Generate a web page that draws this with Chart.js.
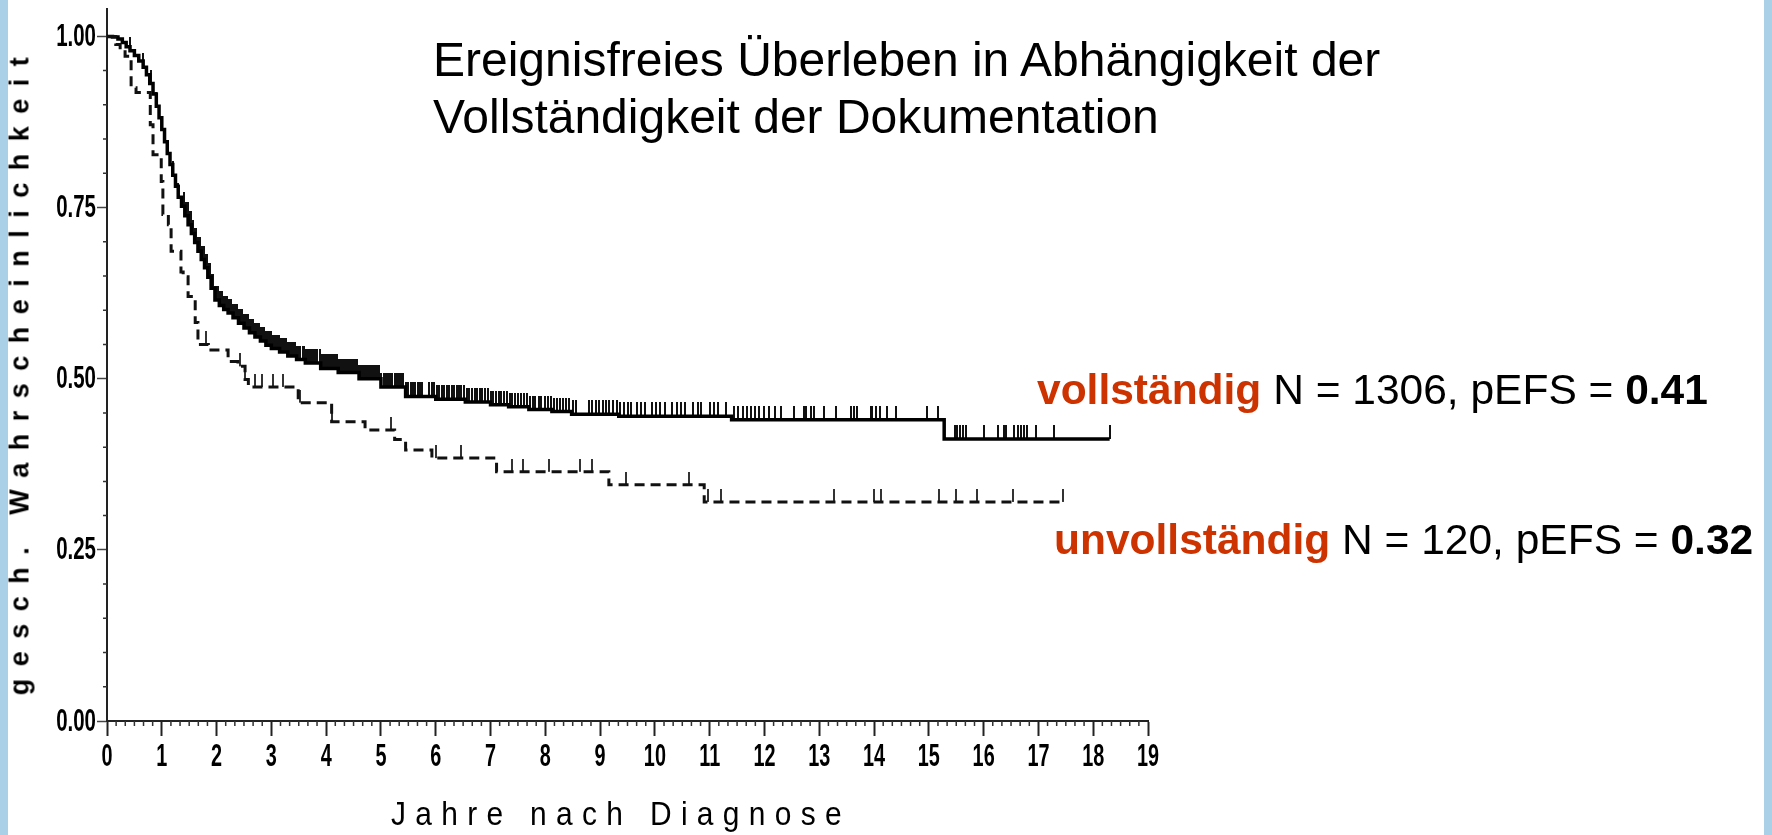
<!DOCTYPE html>
<html>
<head>
<meta charset="utf-8">
<script src="https://cdn.jsdelivr.net/npm/chart.js@4.4.1/dist/chart.umd.min.js"></script>
<style>
html, body { margin: 0; padding: 0; }
body { width: 1772px; height: 835px; background: #a9d0e6; position: relative; overflow: hidden; font-family: 'Liberation Sans', Arial, sans-serif; }
#page { position: absolute; left: 8px; top: 0; width: 1756px; height: 835px; background: #fff; }
#wrap { position: absolute; left: 0; top: 0; width: 1772px; height: 835px; }
.t { position: absolute; white-space: nowrap; color: #000; }
.red { color: #cc3300; font-weight: bold; }
</style>
</head>
<body>
<div id="page"></div>
<div id="wrap"><canvas id="kmChart" width="1772" height="835"></canvas></div>

<div class="t" style="left:433px; top:31px; font-size:48px; line-height:57px;">Ereignisfreies Überleben in Abhängigkeit der<br>Vollständigkeit der Dokumentation</div>
<div class="t" style="left:1037px; top:369px; font-size:42.5px; line-height:42.5px;"><span class="red">vollständig</span> N = 1306, pEFS = <b>0.41</b></div>
<div class="t" style="left:1054px; top:519px; font-size:42.5px; line-height:42.5px;"><span class="red">unvollständig</span> N = 120, pEFS = <b>0.32</b></div>

<div class="t" style="left:20px; top:370px; font-size:27px; font-weight:bold; letter-spacing:12.5px; transform:translate(-50%,-50%) rotate(-90deg);">gesch. Wahrscheinlichkeit</div>
<div class="t" style="left:621px; top:813px; font-size:34px; letter-spacing:10.6px; transform:translate(-50%,-50%) scaleX(0.88);">Jahre nach Diagnose</div>

<script>
// Kaplan-Meier: vollständig (solid)
const solidTimes = [0, 0.1, 0.2, 0.28, 0.35, 0.42, 0.5, 0.58, 0.66, 0.72, 0.78, 0.84, 0.9, 0.95, 1.0, 1.05, 1.1, 1.15, 1.2, 1.25, 1.3, 1.36, 1.42, 1.48, 1.54, 1.6, 1.66, 1.72, 1.78, 1.84, 1.9, 1.97, 2.05, 2.13, 2.21, 2.3, 2.4, 2.5, 2.6, 2.7, 2.8, 2.9, 3.0, 3.15, 3.3, 3.46, 3.62, 3.9, 4.22, 4.6, 5.0, 5.45, 6.0, 6.54, 7.0, 7.33, 7.7, 8.12, 8.48, 9.34, 11.4, 15.28, 18.3];
const solidSurv = [1, 0.999, 0.996, 0.991, 0.985, 0.979, 0.972, 0.964, 0.955, 0.944, 0.931, 0.916, 0.898, 0.881, 0.864, 0.846, 0.829, 0.813, 0.797, 0.781, 0.765, 0.752, 0.738, 0.725, 0.712, 0.699, 0.686, 0.674, 0.662, 0.648, 0.632, 0.615, 0.607, 0.601, 0.596, 0.589, 0.581, 0.574, 0.567, 0.561, 0.555, 0.549, 0.544, 0.539, 0.533, 0.528, 0.523, 0.515, 0.509, 0.5, 0.488, 0.474, 0.47, 0.466, 0.462, 0.459, 0.455, 0.452, 0.448, 0.445, 0.44, 0.412, 0.412];

// Kaplan-Meier: unvollständig (dashed)
const dashedTimes = [0, 0.16, 0.24, 0.33, 0.44, 0.53, 0.79, 0.84, 0.99, 1.02, 1.12, 1.17, 1.35, 1.39, 1.48, 1.61, 1.66, 1.85, 2.21, 2.39, 2.52, 2.58, 3.49, 4.1, 4.71, 5.25, 5.45, 5.93, 7.11, 9.16, 10.9, 17.44];
const dashedSurv = [1, 0.988, 0.98, 0.971, 0.925, 0.918, 0.871, 0.827, 0.788, 0.74, 0.725, 0.686, 0.656, 0.649, 0.62, 0.582, 0.55, 0.542, 0.525, 0.518, 0.499, 0.488, 0.465, 0.437, 0.425, 0.411, 0.396, 0.384, 0.364, 0.345, 0.32, 0.32];

// censored observations (tick marks)
const solidCensor = [0.42, 0.66, 0.8, 0.9, 1.05, 1.2, 1.3, 1.4, 1.44, 1.47, 1.51, 1.53, 1.57, 1.6, 1.62, 1.66, 1.69, 1.72, 1.74, 1.77, 1.8, 1.83, 1.86, 1.88, 1.91, 1.94, 1.97, 1.99, 2.02, 2.05, 2.08, 2.1, 2.13, 2.16, 2.19, 2.21, 2.24, 2.27, 2.3, 2.33, 2.35, 2.38, 2.41, 2.44, 2.47, 2.5, 2.52, 2.55, 2.58, 2.61, 2.64, 2.67, 2.7, 2.72, 2.75, 2.78, 2.81, 2.84, 2.87, 2.9, 2.93, 2.96, 2.99, 3.02, 3.05, 3.08, 3.11, 3.14, 3.17, 3.2, 3.23, 3.26, 3.3, 3.33, 3.36, 3.4, 3.43, 3.46, 3.5, 3.53, 3.57, 3.6, 3.63, 3.67, 3.7, 3.74, 3.77, 3.81, 3.84, 3.88, 3.91, 3.95, 3.98, 4.02, 4.05, 4.09, 4.12, 4.16, 4.2, 4.23, 4.27, 4.3, 4.34, 4.38, 4.41, 4.45, 4.49, 4.52, 4.56, 4.6, 4.63, 4.67, 4.71, 4.74, 4.78, 4.82, 4.86, 4.9, 4.93, 4.97, 5.01, 5.05, 5.09, 5.13, 5.17, 5.21, 5.25, 5.29, 5.33, 5.37, 5.41, 5.45, 5.5, 5.54, 5.58, 5.62, 5.67, 5.71, 5.75, 5.88, 5.93, 5.97, 6.02, 6.06, 6.11, 6.15, 6.2, 6.24, 6.29, 6.33, 6.38, 6.43, 6.47, 6.52, 6.57, 6.61, 6.66, 6.71, 6.76, 6.8, 6.85, 6.9, 6.95, 7.0, 7.05, 7.1, 7.15, 7.2, 7.25, 7.3, 7.35, 7.4, 7.45, 7.5, 7.56, 7.61, 7.66, 7.72, 7.77, 7.82, 7.88, 7.93, 7.99, 8.04, 8.1, 8.15, 8.21, 8.27, 8.32, 8.38, 8.44, 8.5, 8.56, 8.8, 8.86, 8.92, 8.98, 9.05, 9.11, 9.17, 9.24, 9.3, 9.37, 9.43, 9.5, 9.57, 9.68, 9.75, 9.82, 9.95, 10.02, 10.1, 10.18, 10.32, 10.4, 10.48, 10.55, 10.7, 10.78, 10.85, 11.0, 11.08, 11.15, 11.3, 11.45, 11.52, 11.6, 11.68, 11.75, 11.82, 11.9, 12.0, 12.08, 12.2, 12.3, 12.54, 12.72, 12.75, 12.85, 12.91, 13.09, 13.3, 13.58, 13.64, 13.69, 13.94, 13.97, 14.03, 14.1, 14.24, 14.4, 14.97, 15.16, 15.47, 15.52, 15.57, 15.62, 15.68, 16.01, 16.26, 16.38, 16.41, 16.56, 16.62, 16.68, 16.74, 16.8, 16.96, 17.29, 18.3];
const dashedCensor = [1.81, 2.43, 2.52, 2.7, 2.82, 3.03, 3.22, 3.53, 4.1, 5.19, 6.0, 6.47, 7.39, 7.6, 8.06, 8.64, 8.85, 9.47, 10.62, 10.97, 11.2, 13.27, 14.0, 14.13, 15.19, 15.5, 15.87, 16.53, 17.44];

const xTickLabels = ['0', '1', '2', '3', '4', '5', '6', '7', '8', '9', '10', '11', '12', '13', '14', '15', '16', '17', '18', '19'];
const yTickValues = [0, 0.25, 0.5, 0.75, 1];
const yTickLabels = ['0.00', '0.25', '0.50', '0.75', '1.00'];

function survAt(times, surv, t) {
    let s = surv[0];
    for (let i = 0; i < times.length; i++) {
        if (times[i] <= t) s = surv[i];
    }
    return s;
}

// vertical tick that sits on top of the point
function censorMark(w, h, color) {
    const c = document.createElement('canvas');
    c.width = w;
    c.height = h * 2;
    const g = c.getContext('2d');
    g.fillStyle = color;
    g.fillRect(0, 0, w, h);
    return c;
}

// small ticks between the labelled ones + condensed tick labels
const axisExtras = {
    id: 'axisExtras',
    afterDraw(chart) {
        const { ctx, chartArea, scales } = chart;
        ctx.save();
        ctx.strokeStyle = '#333';
        ctx.lineWidth = 1.5;
        ctx.beginPath();
        for (let k = 1; k < 19 * 6; k++) {
            if (k % 6 === 0) continue;
            const px = scales.x.getPixelForValue(k / 6);
            ctx.moveTo(px, chartArea.bottom);
            ctx.lineTo(px, chartArea.bottom + 5);
        }
        for (let k = 1; k < 20; k++) {
            if (k % 5 === 0) continue;
            const py = scales.y.getPixelForValue(k * 0.05);
            ctx.moveTo(chartArea.left, py);
            ctx.lineTo(chartArea.left - 4, py);
        }
        ctx.stroke();

        ctx.fillStyle = '#000';
        ctx.font = 'bold 31px "Liberation Sans", Arial, sans-serif';
        ctx.textBaseline = 'middle';
        scales.x.ticks.forEach((t, i) => {
            ctx.save();
            ctx.translate(scales.x.getPixelForValue(t.value), chartArea.bottom + 36);
            ctx.scale(0.64, 1);
            ctx.textAlign = 'center';
            ctx.fillText(xTickLabels[i], 0, 0);
            ctx.restore();
        });
        scales.y.ticks.forEach((t, i) => {
            ctx.save();
            ctx.translate(chartArea.left - 11, scales.y.getPixelForValue(t.value) + 1);
            ctx.scale(0.66, 1);
            ctx.textAlign = 'right';
            ctx.fillText(yTickLabels[i], 0, 0);
            ctx.restore();
        });
        ctx.restore();
    }
};

const ctx = document.getElementById('kmChart').getContext('2d');
const kmChart = new Chart(ctx, {
    type: 'line',
    data: {
        datasets: [
            {
                label: 'unvollständig',
                data: dashedTimes.map((t, i) => ({ x: t, y: dashedSurv[i] })),
                borderColor: '#111',
                borderWidth: 3,
                borderDash: [10, 6],
                stepped: true,
                pointRadius: 0
            },
            {
                label: 'vollständig',
                data: solidTimes.map((t, i) => ({ x: t, y: solidSurv[i] })),
                borderColor: '#000',
                borderWidth: 3.5,
                stepped: true,
                pointRadius: 0
            },
            {
                type: 'scatter',
                label: 'zensiert unvollständig',
                data: dashedCensor.map(t => ({ x: t, y: survAt(dashedTimes, dashedSurv, t) })),
                pointStyle: censorMark(2, 13, '#333'),
                pointRadius: 7,
                showLine: false
            },
            {
                type: 'scatter',
                label: 'zensiert vollständig',
                data: solidCensor.map(t => ({ x: t, y: survAt(solidTimes, solidSurv, t) })),
                pointStyle: censorMark(2, 14, '#111'),
                pointRadius: 7,
                showLine: false
            }
        ]
    },
    options: {
        responsive: false,
        animation: false,
        devicePixelRatio: 1,
        layout: { padding: { left: 0, top: 9, right: 624, bottom: 0 } },
        plugins: {
            legend: { display: false },
            tooltip: { enabled: false }
        },
        scales: {
            x: {
                type: 'linear',
                min: 0,
                max: 19,
                afterBuildTicks: s => { s.ticks = xTickLabels.map((l, i) => ({ value: i })); },
                afterFit: s => { s.height = 114; },
                ticks: { display: false },
                grid: { drawOnChartArea: false, tickLength: 15, tickColor: '#222', tickWidth: 2 },
                border: { color: '#222', width: 2 }
            },
            y: {
                type: 'linear',
                min: 0,
                max: 1.04,
                afterBuildTicks: s => { s.ticks = yTickValues.map(v => ({ value: v })); },
                afterFit: s => { s.width = 107; },
                ticks: { display: false },
                grid: { drawOnChartArea: false, tickLength: 10, tickColor: '#444', tickWidth: 1.5 },
                border: { color: '#222', width: 2 }
            }
        }
    },
    plugins: [axisExtras]
});
</script>
</body>
</html>
